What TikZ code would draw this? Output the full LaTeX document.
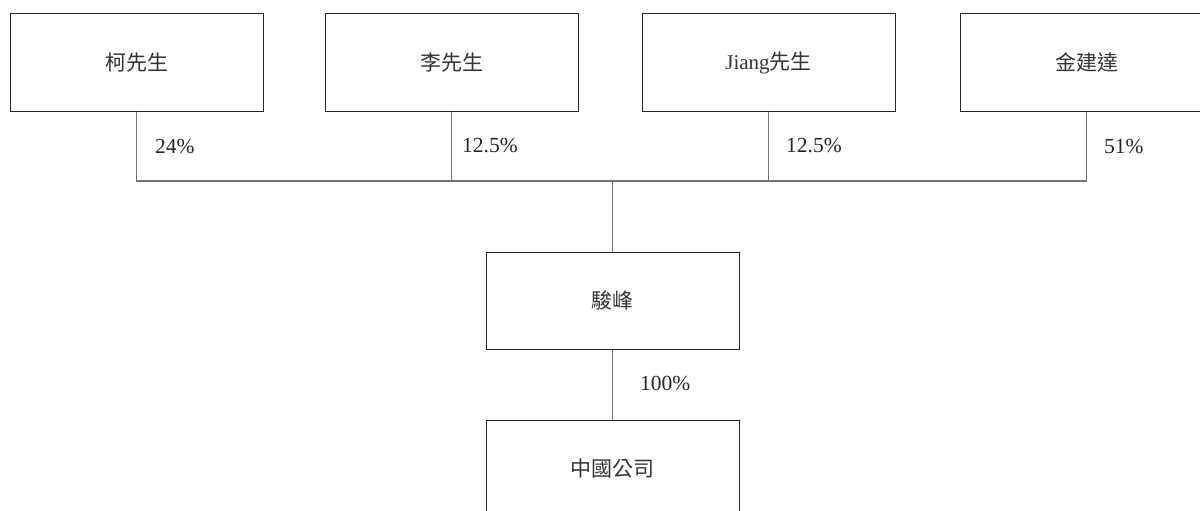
\documentclass[tikz,border=0pt]{standalone}
\usepackage{fontspec}
\setmainfont{Liberation Serif}
\newfontfamily\cjk{Noto Sans CJK TC}
\begin{document}
\begin{tikzpicture}[x=1pt,y=-1pt,
  ent/.style={draw=black!85,line width=1pt,minimum width=253pt,minimum height=97pt,inner sep=0pt,text=black!80,font=\fontsize{21}{24}\selectfont},
  link/.style={draw=black!55,line width=1.1pt},
  pct/.style={anchor=west,inner sep=0pt,text=black!85,font=\fontsize{21.5}{24}\selectfont}]
\useasboundingbox (0,0) rectangle (1200,511);
\clip (0,0) rectangle (1200,511);
\node[ent] (a) at (136.5,62.5) {\cjk 柯先生};
\node[ent] (b) at (451.5,62.5) {\cjk 李先生};
\node[ent] (c) at (768.5,62.5) {Jiang{\cjk 先生}};
\node[ent] (d) at (1086.5,62.5) {\cjk 金建達};
\node[ent] (j) at (612.5,300.5) {\cjk 駿峰};
\node[ent] (p) at (612.5,468.5) {\cjk 中國公司};
\coordinate (ba) at (136.5,181);
\coordinate (bb) at (451.5,181);
\coordinate (bc) at (768.5,181);
\coordinate (bd) at (1086.5,181);
\coordinate (bm) at (612.5,181);
\draw[link] (a.south) -- (ba) -- (bd) -- (d.south);
\draw[link] (b.south) -- (bb);
\draw[link] (c.south) -- (bc);
\draw[link] (bm) -- (j.north);
\draw[link] (j.south) -- (p.north);
\node[pct] at (155,146) {24\%};
\node[pct] at (462,146) {12.5\%};
\node[pct] at (786,146) {12.5\%};
\node[pct] at (1104,146) {51\%};
\node[pct] at (640,383) {100\%};
\end{tikzpicture}
\end{document}
